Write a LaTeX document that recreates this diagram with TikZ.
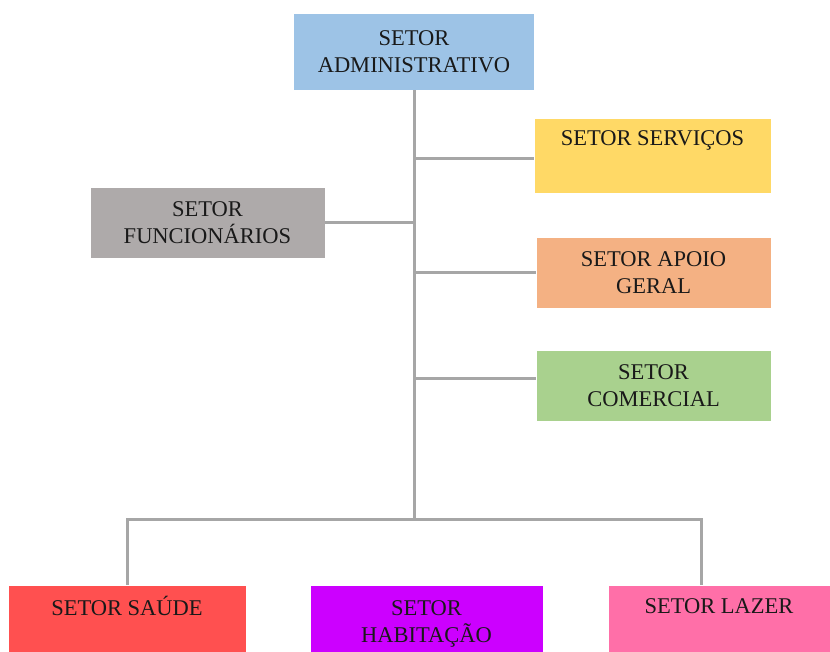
\documentclass[tikz,border=0pt]{standalone}
\usepackage{fontspec}
\setmainfont{Liberation Serif}
\definecolor{admc}{HTML}{9DC3E6}
\definecolor{servc}{HTML}{FFD966}
\definecolor{funcc}{HTML}{AEAAAA}
\definecolor{apoioc}{HTML}{F4B183}
\definecolor{comc}{HTML}{A9D18E}
\definecolor{saudec}{HTML}{FF5050}
\definecolor{habc}{HTML}{CC00FF}
\definecolor{lazerc}{HTML}{FF6FA8}
\definecolor{linegray}{HTML}{A6A6A6}
\begin{document}
\begin{tikzpicture}[x=1pt,y=-1pt,
  box/.style={draw=white, line width=0.8pt, inner sep=0pt, align=center,
    font=\fontsize{22.5}{27}\selectfont, text=black!90},
  link/.style={draw=linegray, line width=3pt}]
\useasboundingbox (0,0) rectangle (830,651);
\node[box, fill=admc, minimum width=241pt, minimum height=77pt] (adm) at (414,51.5) {SETOR\\ADMINISTRATIVO};
\node[box, fill=servc, minimum width=237pt, minimum height=75pt] (serv) at (652.5,155.5) {SETOR SERVIÇOS\\\strut};
\node[box, fill=funcc, minimum width=235pt, minimum height=71pt] (func) at (207.5,222.5) {SETOR\\FUNCIONÁRIOS};
\node[box, fill=apoioc, minimum width=235pt, minimum height=71pt] (apoio) at (653.5,272.5) {SETOR APOIO\\GERAL};
\node[box, fill=comc, minimum width=235pt, minimum height=71pt] (com) at (653.5,385.5) {SETOR\\COMERCIAL};
\node[box, fill=saudec, minimum width=238pt, minimum height=77pt] (saude) at (127,623.5) {SETOR SAÚDE\\\strut};
\node[box, fill=habc, minimum width=233pt, minimum height=77pt] (hab) at (426.5,623.5) {SETOR\\HABITAÇÃO};
\node[box, fill=lazerc, minimum width=222pt, minimum height=77pt] (lazer) at (719,623.5) {SETOR LAZER\\\strut};
\path (adm.south) ++(0,429) coordinate (j);
\draw[link] (adm) -- (j);
\draw[link] ([yshift=-2.5pt]serv.west) -- ([yshift=-2.5pt]serv.west -| j);
\draw[link] (func.east) -- (func.east -| j);
\draw[link] (apoio.west) -- (apoio.west -| j);
\draw[link] ([yshift=7.5pt]com.west) -- ([yshift=7.5pt]com.west -| j);
\draw[link] (saude.north) |- (j) -| ([xshift=-18pt]lazer.north);
\end{tikzpicture}
\end{document}
